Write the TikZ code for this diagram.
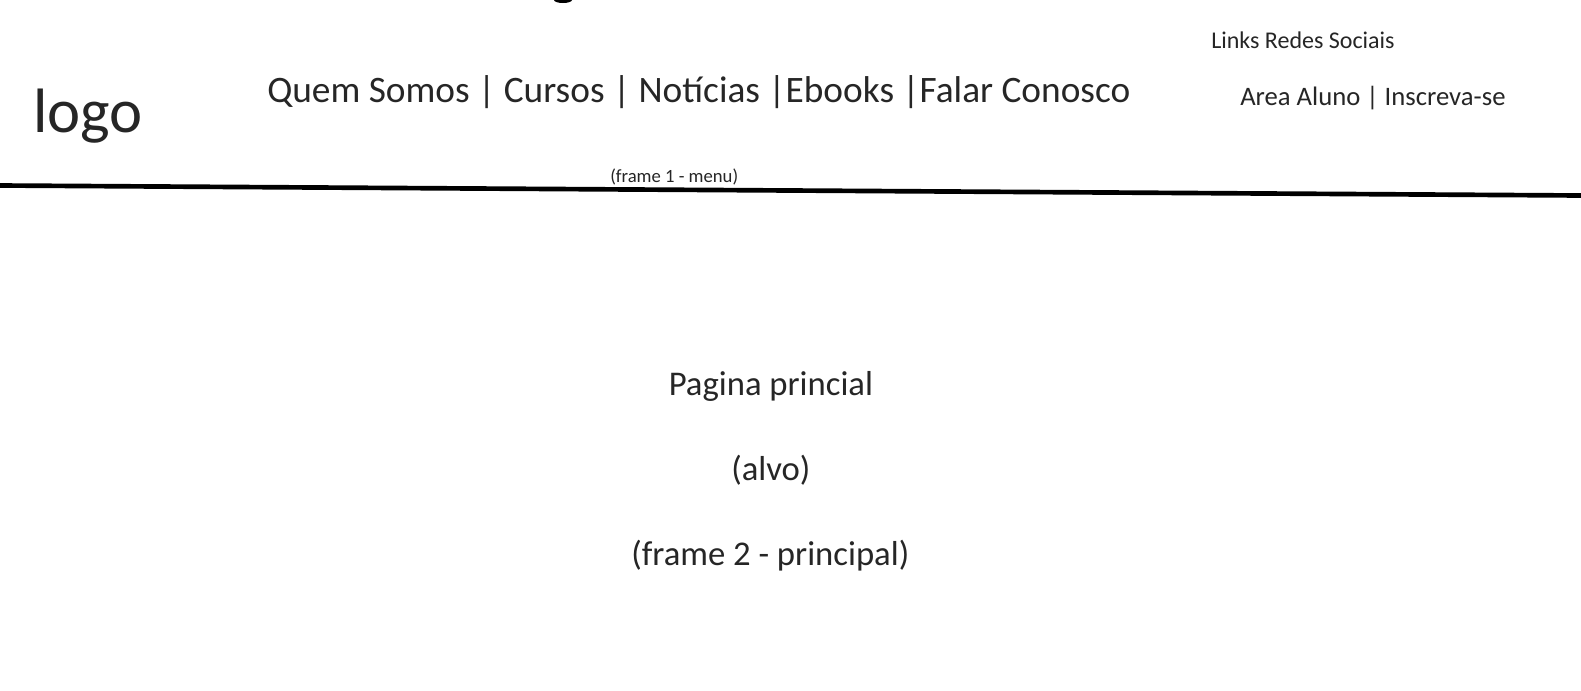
\documentclass[tikz,border=0pt]{standalone}
\usepackage{fontspec}
\setmainfont{Carlito}
\usepackage{tikz}
\usetikzlibrary{calc}
\tikzset{txt/.style={inner sep=0, anchor=base west, text=black!85}}

\begin{document}
\begin{tikzpicture} [x=.75pt, y=-.75pt]
\useasboundingbox[fill=white] (0,0) rectangle (1581,690);
\fill[black] (563,0) ellipse (9 and 3);
\node[txt, font=\fontsize{47}{50}\selectfont] (logo) at (33,132) {logo};
\node[txt, font=\fontsize{28}{32}\selectfont] (menu) at (267,102) {Quem Somos | Cursos | Notícias |Ebooks |Falar Conosco};
\node[txt, font=\fontsize{18}{22}\selectfont] (redes) at (1211,48) {Links Redes Sociais};
\node[txt, font=\fontsize{20}{24}\selectfont] (aluno) at (1240,105) {Area Aluno | Inscreva-se};
\node[txt, font=\fontsize{14}{16}\selectfont] (frame1) at (610,182) {(frame 1 - menu)};
\draw[line width=3.5pt] (0,185.5)--(1581,195.5);
\node[txt, font=\fontsize{26}{30}\selectfont] (pagina) at (668.5,395) {Pagina princial};
\node[txt, font=\fontsize{26}{30}\selectfont] (alvo) at (731,480) {(alvo)};
\node[txt, font=\fontsize{26}{30}\selectfont] (frame2) at (631,565) {(frame 2 - principal)};
\end{tikzpicture}
\end{document}
